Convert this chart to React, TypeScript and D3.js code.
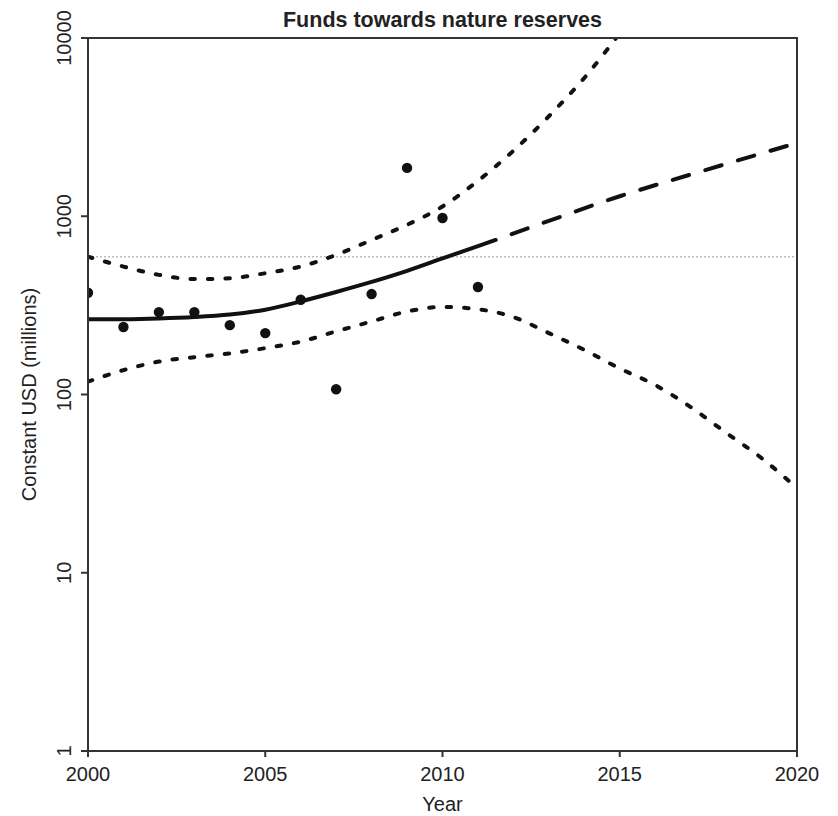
import React from "react";
import * as d3 from "d3";

const title = "Funds towards nature reserves";
const xLabel = "Year";
const yLabel = "Constant USD (millions)";

const xTicks = [2000, 2005, 2010, 2015, 2020];
const yTicks = [1, 10, 100, 1000, 10000];

// observed annual values
const obsYears = [2000, 2001, 2002, 2003, 2004, 2005, 2006, 2007, 2008, 2009, 2010, 2011];
const obsValues = [372, 239, 290, 290, 245, 221, 340, 107, 366, 1867, 977, 401];

// fitted trend (solid within data range)
const fitYears = [2000, 2001, 2002, 2003, 2004, 2005, 2006, 2007, 2008, 2009, 2010, 2011, 2011.5];
const fitValues = [264, 264.5, 267, 272, 281, 299, 333, 376, 428, 494, 580, 680, 736];

// projected trend (dashed)
const projYears = [2011.5, 2013, 2015, 2017, 2020];
const projValues = [736, 942, 1295, 1714, 2577];

// upper confidence bound
const upperYears = [2000, 2001, 2002, 2003, 2004, 2005, 2006, 2007, 2008, 2009, 2010, 2011, 2012, 2013, 2014, 2015, 2016];
const upperValues = [593, 522, 469, 444, 449, 479, 522, 607, 736, 895, 1135, 1580, 2330, 3640, 5970, 10600, 19000];

// lower confidence bound
const lowerYears = [2000, 2001, 2002, 2003, 2004, 2005, 2006, 2007, 2008, 2009, 2010, 2011, 2012, 2013, 2014, 2015, 2016, 2017, 2018, 2019, 2020];
const lowerValues = [118, 137, 153, 162, 170, 182, 198, 226, 257, 292, 310, 301, 272, 221, 178, 140, 113, 85, 61, 44, 29.8];

const referenceLevel = 593;

const W = 838;
const H = 816;
const L = 88, R = 797, T = 38, B = 751;

export default function App() {
  const x = d3.scaleLinear().domain([2000, 2020]).range([L, R]);
  const y = d3.scaleLog().domain([1, 10000]).range([B, T]);
  const line = d3
    .line<[number, number]>()
    .x((d) => x(d[0]))
    .y((d) => y(d[1]))
    .curve(d3.curveMonotoneX);
  const zip = (a: number[], b: number[]) => a.map((v, i) => [v, b[i]] as [number, number]);

  const font = "Liberation Sans, Arial, Helvetica, sans-serif";
  const ink = "#111";
  const axisColor = "#333";

  return (
    <div style={{ position: "absolute", left: 0, top: 0 }}>
      <svg width={W} height={H} style={{ display: "block", background: "#fff" }} fontFamily={font}>
        <defs>
          <clipPath id="plot">
            <rect x={L} y={T} width={R - L} height={B - T} />
          </clipPath>
        </defs>
        <rect x={0} y={0} width={W} height={H} fill="#fff" />

        <text x={(L + R) / 2} y={27} textAnchor="middle" fontSize={21.5} fontWeight="bold" fill="#222">
          {title}
        </text>

        <g clipPath="url(#plot)">
          <line
            x1={L}
            x2={R}
            y1={y(referenceLevel)}
            y2={y(referenceLevel)}
            stroke="#bbb"
            strokeWidth={1.5}
            strokeDasharray="2 2"
          />
          <path d={line(zip(upperYears, upperValues)) || ""} fill="none" stroke={ink} strokeWidth={4} strokeDasharray="4.5 13" strokeLinecap="round" />
          <path d={line(zip(lowerYears, lowerValues)) || ""} fill="none" stroke={ink} strokeWidth={4} strokeDasharray="4.5 13" strokeLinecap="round" />
          <path d={line(zip(fitYears, fitValues)) || ""} fill="none" stroke={ink} strokeWidth={4} strokeLinecap="round" />
          <path d={line(zip(projYears, projValues)) || ""} fill="none" stroke={ink} strokeWidth={4} strokeDasharray="17 17" strokeDashoffset={-17} strokeLinecap="round" />
          {obsYears.map((yr, i) => (
            <circle key={yr} cx={x(yr)} cy={y(obsValues[i])} r={5.2} fill={ink} />
          ))}
        </g>

        <rect x={L} y={T} width={R - L} height={B - T} fill="none" stroke={axisColor} strokeWidth={2} />

        {xTicks.map((t) => (
          <g key={t}>
            <line x1={x(t)} x2={x(t)} y1={B} y2={B + 6} stroke={axisColor} strokeWidth={2} />
            <text x={x(t)} y={781} textAnchor="middle" fontSize={20} fill="#222">
              {t}
            </text>
          </g>
        ))}
        {yTicks.map((t) => (
          <g key={t}>
            <line x1={L - 7} x2={L} y1={y(t)} y2={y(t)} stroke={axisColor} strokeWidth={2} />
            <text transform={`translate(71,${y(t)}) rotate(-90)`} textAnchor="middle" fontSize={20} fill="#222">
              {t}
            </text>
          </g>
        ))}

        <text x={(L + R) / 2} y={811} textAnchor="middle" fontSize={20} fill="#222">
          {xLabel}
        </text>
        <text transform={`translate(36,${(T + B) / 2}) rotate(-90)`} textAnchor="middle" fontSize={20} fill="#222">
          {yLabel}
        </text>
      </svg>
    </div>
  );
}
